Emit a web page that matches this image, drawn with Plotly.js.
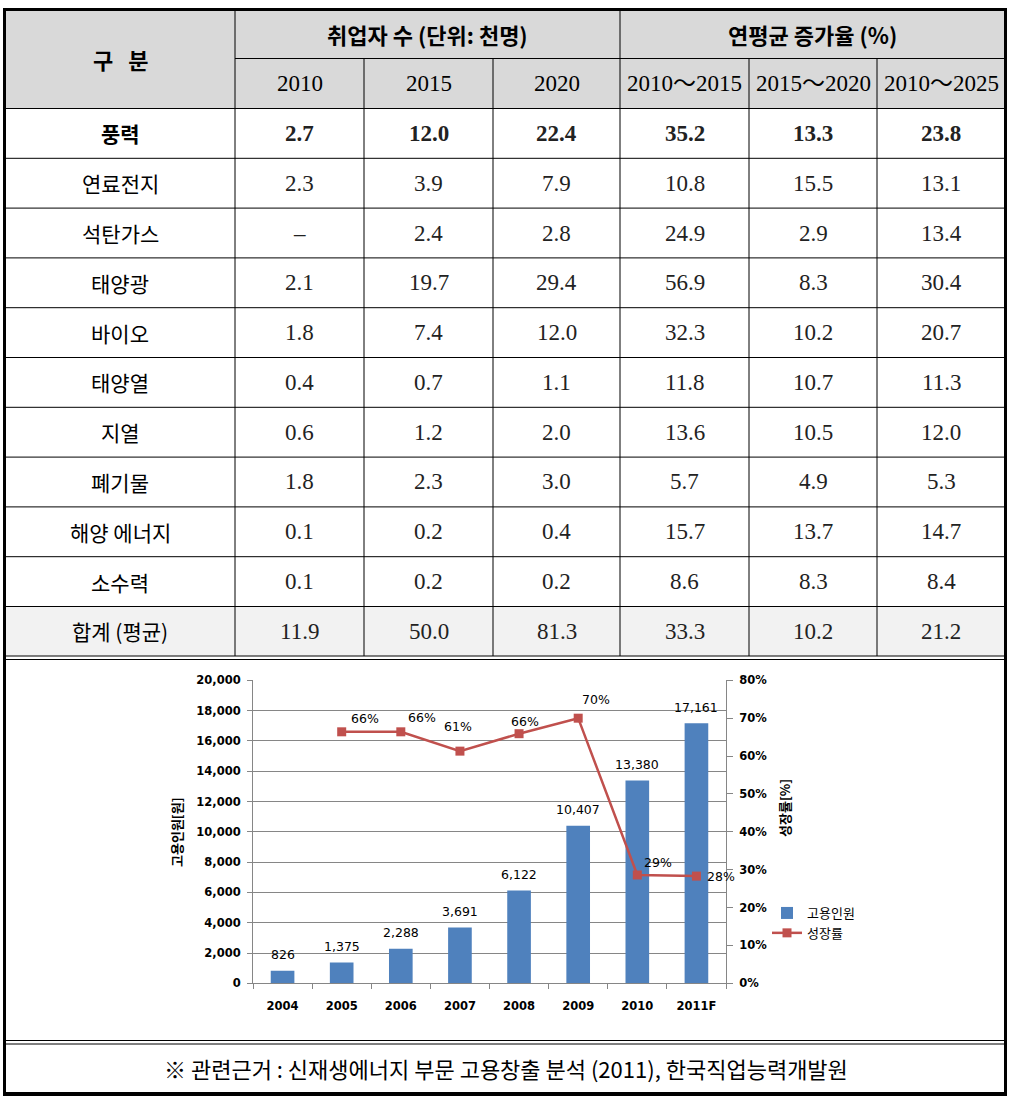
<!DOCTYPE html>
<html><head><meta charset="utf-8">
<script src="https://cdn.plot.ly/plotly-3.0.1.min.js"></script>
<style>html,body{margin:0;padding:0;background:#fff;}#chart{width:1013px;height:1097px;}</style>
</head><body><div id="chart"></div>
<script>
// ---------- table data ----------
const cornerHeader = '구\u00a0\u00a0\u00a0분';
const groupHeaders = ['취업자 수 (단위: 천명)', '연평균 증가율 (%)'];
const periodHeaders = ['2010', '2015', '2020', '2010～2015', '2015～2020', '2010～2025'];
const sectors = ['풍력', '연료전지', '석탄가스', '태양광', '바이오', '태양열', '지열', '폐기물', '해양 에너지', '소수력', '합계 (평균)'];
const emp2010 = [2.7, 2.3, null, 2.1, 1.8, 0.4, 0.6, 1.8, 0.1, 0.1, 11.9];
const emp2015 = [12.0, 3.9, 2.4, 19.7, 7.4, 0.7, 1.2, 2.3, 0.2, 0.2, 50.0];
const emp2020 = [22.4, 7.9, 2.8, 29.4, 12.0, 1.1, 2.0, 3.0, 0.4, 0.2, 81.3];
const rate1015 = [35.2, 10.8, 24.9, 56.9, 32.3, 11.8, 13.6, 5.7, 15.7, 8.6, 33.3];
const rate1520 = [13.3, 15.5, 2.9, 8.3, 10.2, 10.7, 10.5, 4.9, 13.7, 8.3, 10.2];
const rate1025 = [23.8, 13.1, 13.4, 30.4, 20.7, 11.3, 12.0, 5.3, 14.7, 8.4, 21.2];
const footnote = '※ 관련근거 : 신재생에너지 부문 고용창출 분석 (2011), 한국직업능력개발원';

// ---------- chart data ----------
const years = ['2004', '2005', '2006', '2007', '2008', '2009', '2010', '2011F'];
const employment = [826, 1375, 2288, 3691, 6122, 10407, 13380, 17161];
const growthYears = ['2005', '2006', '2007', '2008', '2009', '2010', '2011F'];
const growthRate = [66.4, 66.4, 61.3, 65.9, 70.0, 28.6, 28.3];

// ---------- geometry / style ----------
const W = 1013, H = 1097;
const px = x => x / W, py = y => 1 - y / H;
const colX = [5, 235, 364, 493, 620, 749, 877, 1005];
const headTop = 10, headMid = 58.5, headBot = 108.5, rowH = 49.8;
const tableBot = 656;
const rowTop = k => headBot + rowH * k;
const KR = 'Noto Sans CJK KR';
const NUM = 'Liberation Serif, Noto Sans CJK KR';
const CH = 'DejaVu Sans, Noto Sans CJK KR';
const fmt = v => v === null ? '–' : v.toFixed(1);

const shapes = [];
const annotations = [];
function hline(y, x0, x1, w, c) { shapes.push({type:'line', xref:'paper', yref:'paper', x0:px(x0), x1:px(x1), y0:py(y), y1:py(y), line:{color:c||'#000', width:w||1}, layer:'above'}); }
function vline(x, y0, y1, w, c) { shapes.push({type:'line', xref:'paper', yref:'paper', x0:px(x), x1:px(x), y0:py(y0), y1:py(y1), line:{color:c||'#000', width:w||1}, layer:'above'}); }
function rect(x0, y0, x1, y1, fill) { shapes.push({type:'rect', xref:'paper', yref:'paper', x0:px(x0), x1:px(x1), y0:py(y0), y1:py(y1), fillcolor:fill, line:{width:0}, layer:'below'}); }
function txt(x, y, t, fam, size, bold, color) {
  annotations.push({xref:'paper', yref:'paper', x:px(x), y:py(y), text:t, showarrow:false, xanchor:'center', yanchor:'middle',
    font:{family:fam, size:size, color:color||'#000', weight: bold ? 'bold' : 'normal'}});
}

// fills
rect(colX[0], headTop, colX[7], headBot, '#d9d9d9');
rect(colX[0], rowTop(10), colX[7], tableBot, '#f2f2f2');

// grid lines
hline(headMid, colX[1], colX[7]);
hline(headBot, colX[0], colX[7]);
for (let k = 1; k < sectors.length; k++) hline(rowTop(k), colX[0], colX[7]);
hline(tableBot, colX[0], colX[7]);
hline(659.5, colX[0], colX[7]);
hline(1040.5, colX[0], colX[7]);
hline(1044, colX[0], colX[7]);
vline(colX[1], headTop, tableBot);
vline(colX[4], headTop, tableBot);
[2, 3, 5, 6].forEach(i => vline(colX[i], headMid, tableBot));
// outer border
hline(9.5, 3, 1007, 3);
vline(4.5, 8, 1096, 3);
vline(1005.5, 8, 1096, 3);
hline(1094, 3, 1007, 4);

// header text
const cx = i => (colX[i] + colX[i + 1]) / 2;
txt(cx(0), (headTop + headBot) / 2, cornerHeader, KR, 22, true);
txt((colX[1] + colX[4]) / 2, (headTop + headMid) / 2, groupHeaders[0], KR, 22, true);
txt((colX[4] + colX[7]) / 2, (headTop + headMid) / 2, groupHeaders[1], KR, 22, true);
periodHeaders.forEach((h, i) => txt(cx(i + 1), (headMid + headBot) / 2, h, NUM, 23, false));

// body text
const cols = [emp2010, emp2015, emp2020, rate1015, rate1520, rate1025];
sectors.forEach((s, k) => {
  const yc = rowTop(k) + rowH / 2;
  const bold = k === 0;
  txt(cx(0), yc, s, KR, 21, bold);
  cols.forEach((col, i) => txt(cx(i + 1), yc, fmt(col[k]), NUM, 23, bold, '#222'));
});

// footnote
txt(506, 1068, footnote, KR, 22, false);

// ---------- chart ----------
const yTop = 680.3, yBot = 983.3;
const barLabelShift = 16;
// label offsets (px) for the growth-rate labels, relative to each marker
const rateLabelDX = [23, 21, -2, 6, 18, 21, 25];
const rateLabelDY = [13, 14, 25, 12, 19, 12, 0];
const catIndex = c => years.indexOf(c);

employment.forEach((v, i) => annotations.push({xref:'x', yref:'y', x:catIndex(years[i]), y:v, text:v.toLocaleString('en-US'),
  showarrow:false, xanchor:'center', yanchor:'middle', yshift:barLabelShift, font:{family:CH, size:12.5, color:'#000'}}));
growthRate.forEach((v, i) => annotations.push({xref:'x', yref:'y2', x:catIndex(growthYears[i]), y:v, text:Math.round(v) + '%',
  showarrow:false, xanchor:'center', yanchor:'middle', xshift:rateLabelDX[i], yshift:rateLabelDY[i], font:{family:CH, size:12.5, color:'#000'}}));

annotations.push({xref:'paper', yref:'paper', x:px(176), y:py(832), text:'고용인원[원]', textangle:-90, showarrow:false,
  xanchor:'center', yanchor:'middle', font:{family:KR, size:13, weight:'bold', color:'#000'}});
annotations.push({xref:'paper', yref:'paper', x:px(784), y:py(808), text:'성장률[%]', textangle:-90, showarrow:false,
  xanchor:'center', yanchor:'middle', font:{family:KR, size:13, weight:'bold', color:'#000'}});

const traces = [
  {type:'bar', x:years, y:employment, name:'고용인원', width:0.4, marker:{color:'#4f81bd'}, hoverinfo:'skip'},
  {type:'scatter', mode:'lines+markers', x:growthYears, y:growthRate, name:'성장률', yaxis:'y2',
   line:{color:'#c0504d', width:2.5}, marker:{symbol:'square', size:9, color:'#c0504d'}, cliponaxis:false, hoverinfo:'skip'}
];

const axFont = {family:CH, size:11.5, weight:'bold', color:'#000'};
const layout = {
  width:W, height:H, margin:{l:0, r:0, t:0, b:0, pad:0}, autosize:false,
  paper_bgcolor:'#fff', plot_bgcolor:'rgba(0,0,0,0)',
  showlegend:true,
  legend:{x:px(767), y:py(898), xanchor:'left', yanchor:'top', font:{family:KR, size:13, color:'#000'},
    bgcolor:'rgba(0,0,0,0)', itemwidth:30, tracegroupgap:0},
  xaxis:{domain:[px(253), px(726)], type:'category', categoryorder:'array', categoryarray:years, range:[-0.5, 7.5],
    showline:true, linecolor:'#868686', linewidth:1,
    ticks:'outside', tickson:'boundaries', ticklen:5, tickcolor:'#868686', showgrid:false, tickfont:axFont,
    ticklabelstandoff:12, fixedrange:true},
  yaxis:{domain:[py(yBot), py(yTop)], range:[0, 20000], dtick:2000, tickformat:',d', showgrid:true, gridcolor:'#868686',
    gridwidth:1, showline:true, linecolor:'#868686', ticks:'outside', ticklen:5, tickcolor:'#868686', zeroline:false,
    tickfont:axFont, ticklabelstandoff:4, fixedrange:true},
  yaxis2:{overlaying:'y', side:'right', anchor:'x', range:[0, 80], dtick:10, ticksuffix:'%', showgrid:false, showline:true,
    linecolor:'#868686', ticks:'outside', ticklen:6, tickcolor:'#868686', zeroline:false, tickfont:axFont,
    ticklabelstandoff:4, fixedrange:true},
  bargap:0.6,
  shapes:shapes, annotations:annotations
};
Plotly.newPlot('chart', traces, layout, {staticPlot:true, displayModeBar:false});
</script></body></html>
